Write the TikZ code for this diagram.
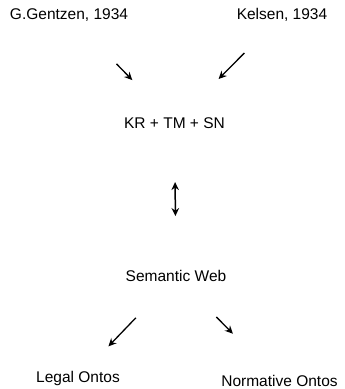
\documentclass[tikz,border=0pt]{standalone}
\usepackage{fontspec}
\setmainfont{Liberation Sans}
\usetikzlibrary{arrows.meta,calc}

\begin{document}
\begin{tikzpicture}[
  x=1pt, y=1pt,
  lbl/.style={inner sep=0pt, font=\fontsize{15.5}{18}\selectfont},
  arrow/.style={-{Stealth[length=8pt,width=7.5pt]}, line width=1.3pt},
  dblarrow/.style={{Stealth[length=8pt,width=7.5pt]}-{Stealth[length=8pt,width=7.5pt]}, line width=1.5pt}
]
\useasboundingbox (0,0) rectangle (345,-389);
\node[lbl] (gentzen) at (69,-15) {G.Gentzen, 1934};
\node[lbl] (kelsen) at (282,-15) {Kelsen, 1934};
\node[lbl] (krtmsn) at (174.5,-123.5) {KR + TM + SN};
\node[lbl] (semweb) at (176,-276) {Semantic Web};
\node[lbl] (legal) at (78,-378) {Legal Ontos};
\node[lbl] (normative) at (279.5,-381) {Normative Ontos};
% inputs
\draw[arrow] ($(gentzen)!0.45!(krtmsn)$) -- ($(gentzen)!0.6!(krtmsn)$);
\draw[arrow] ($(kelsen)!0.35!(krtmsn)$) -- ($(kelsen)!0.59!(krtmsn)$);
% link
\draw[dblarrow] ($(krtmsn)!0.384!(semweb)$) -- ($(krtmsn)!0.607!(semweb)$);
% outputs
\draw[arrow] ($(semweb)!0.41!(legal)$) -- ($(semweb)!0.69!(legal)$);
\draw[arrow] ($(semweb)!0.39!(normative)$) -- ($(semweb)!0.55!(normative)$);
\end{tikzpicture}
\end{document}
